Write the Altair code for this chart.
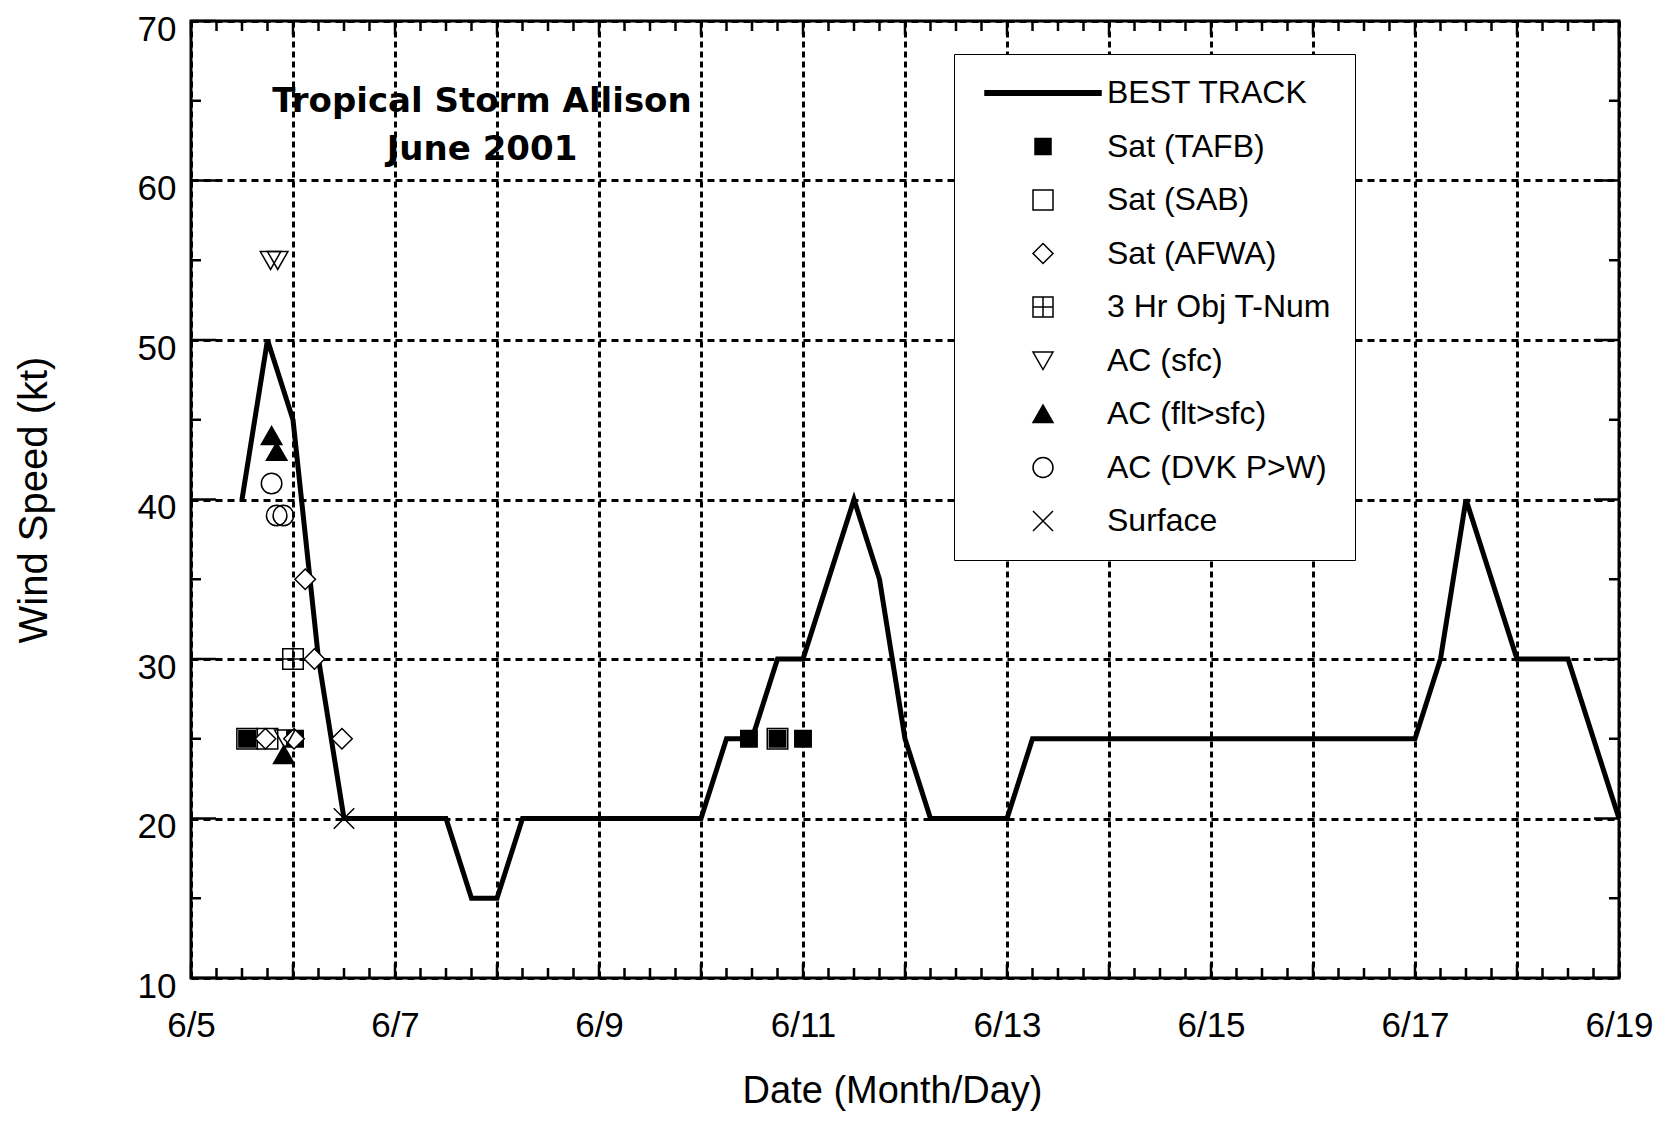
import altair as alt
import pandas as pd

# ---------------- data ----------------
bt_day = [5.5, 5.75, 6.0, 6.25, 6.5, 6.75, 7.0, 7.25, 7.5, 7.75, 8.0, 8.25, 8.5, 8.75,
          9.0, 9.25, 9.5, 9.75, 10.0, 10.25, 10.5, 10.75, 11.0, 11.25, 11.5, 11.75,
          12.0, 12.25, 12.5, 12.75, 13.0, 13.25, 13.5, 14.0, 14.5, 15.0, 15.5, 16.0,
          16.5, 17.0, 17.25, 17.5, 17.75, 18.0, 18.25, 18.5, 18.75, 19.0]
bt_kt = [40, 50, 45, 30, 20, 20, 20, 20, 20, 15, 15, 20, 20, 20,
         20, 20, 20, 20, 20, 25, 25, 30, 30, 35, 40, 35,
         25, 20, 20, 20, 20, 25, 25, 25, 25, 25, 25, 25,
         25, 25, 30, 40, 35, 30, 30, 30, 25, 20]

series_names = ["BEST TRACK", "Sat (TAFB)", "Sat (SAB)", "Sat (AFWA)", "3 Hr Obj T-Num",
                "AC (sfc)", "AC (flt>sfc)", "AC (DVK P>W)", "Surface"]

tafb_day = [5.55, 6.02, 10.47, 10.75, 11.0]
tafb_kt = [25, 25, 25, 25, 25]
sab_day = [5.55, 5.75, 10.75]
sab_kt = [25, 25, 25]
afwa_day = [5.73, 6.01, 6.12, 6.21, 6.48]
afwa_kt = [25, 25, 35, 30, 25]
tnum_day = [6.0]
tnum_kt = [30]
acsfc_day = [5.78, 5.85, 5.92]
acsfc_kt = [55, 55, 25]
acflt_day = [5.79, 5.84, 5.91]
acflt_kt = [44, 43, 24]
dvk_day = [5.79, 5.84, 5.905]
dvk_kt = [41, 39, 39]
sfc_day = [6.5]
sfc_kt = [20]

title_lines = ["Tropical Storm Allison", "June 2001"]
x_label_days = list(range(5, 20))
y_label_vals = [10, 20, 30, 40, 50, 60, 70]

# ---------------- tables ----------------
bt = pd.DataFrame({"day": bt_day, "kt": bt_kt})

rows = []
for name, d, k in [("Sat (TAFB)", tafb_day, tafb_kt), ("Sat (SAB)", sab_day, sab_kt),
                   ("Sat (AFWA)", afwa_day, afwa_kt), ("3 Hr Obj T-Num", tnum_day, tnum_kt),
                   ("AC (sfc)", acsfc_day, acsfc_kt), ("AC (flt>sfc)", acflt_day, acflt_kt),
                   ("AC (DVK P>W)", dvk_day, dvk_kt), ("Surface", sfc_day, sfc_kt)]:
    for a, b in zip(d, k):
        rows.append({"series": name, "day": a, "kt": b})
pts = pd.DataFrame(rows)

xminor = pd.DataFrame({"day": [5 + i * 0.25 for i in range(57) if i % 4 != 0]})
xmajor = pd.DataFrame({"day": [5 + i for i in range(15)]})
yminor = pd.DataFrame({"kt": [15, 25, 35, 45, 55, 65]})
ymajor = pd.DataFrame({"kt": y_label_vals})

W, H = 1428, 957
xs = alt.Scale(domain=[5, 19], nice=False, zero=False)
ys = alt.Scale(domain=[10, 70], nice=False, zero=False)

x_axis = alt.Axis(values=x_label_days, ticks=False, domain=False, grid=True,
                  gridDash=[6, 4], gridWidth=3, gridColor="black", gridOpacity=1,
                  labelExpr="datum.value % 2 == 1 ? '6/' + datum.value : ''",
                  labelFontSize=35, labelFont="Liberation Sans", labelColor="black",
                  labelPadding=30, title="Date (Month/Day)", titleFontSize=38,
                  titleFont="Liberation Sans", titleFontWeight="normal", titleColor="black",
                  titlePadding=29, titleX=701, labelFlush=False, labelOverlap=False)
y_axis = alt.Axis(values=y_label_vals, ticks=False, domain=False, grid=True,
                  gridDash=[7, 5], gridWidth=3, gridColor="black", gridOpacity=1,
                  labelFontSize=35, labelFont="Liberation Sans", labelColor="black",
                  labelPadding=15, labelOffset=8, title="Wind Speed (kt)", titleFontSize=40,
                  titleFont="Liberation Sans", titleFontWeight="normal", titleColor="black",
                  titlePadding=83, labelFlush=False, labelOverlap=False)

X = alt.X("day:Q", scale=xs, axis=x_axis)
Y = alt.Y("kt:Q", scale=ys, axis=y_axis)

line = alt.Chart(bt).mark_line(color="black", strokeWidth=5).encode(x=X, y=Y)

shape_range = [
    "M-5.8,-0.22H5.8V0.22H-5.8Z",
    "M-0.8,-0.8H0.8V0.8H-0.8Z",
    "M-1,-1H1V1H-1Z",
    "M0,-1L1,0L0,1L-1,0Z",
    "M-1,-1H1V1H-1ZM0,-1V1M-1,0H1",
    "M-1,-0.85L1,-0.85L0,0.9Z",
    "M-1,0.85L1,0.85L0,-0.9Z",
    "circle",
    "M-1,-1L1,1M1,-1L-1,1",
]
fill_range = ["black", "black", "transparent", "white", "transparent",
              "transparent", "black", "transparent", "transparent"]
stroke_range = ["black"] * len(series_names)

legend = alt.Legend(orient="none", legendX=763, legendY=33, padding=23,
                    symbolOffset=50, labelOffset=48, labelFontSize=32,
                    labelFont="Liberation Sans", labelColor="black", labelLimit=400,
                    rowPadding=21.5, strokeColor="black", fillColor="white",
                    symbolSize=400, symbolStrokeWidth=1.5,
                    title=None)

points = alt.Chart(pts).mark_point(filled=True, strokeWidth=1.5,
                                   size=420, opacity=1).encode(
    x=X, y=Y,
    shape=alt.Shape("series:N", scale=alt.Scale(domain=series_names, range=shape_range),
                    legend=legend),
    fill=alt.Fill("series:N", scale=alt.Scale(domain=series_names, range=fill_range),
                  legend=legend),
    stroke=alt.Stroke("series:N", scale=alt.Scale(domain=series_names, range=stroke_range),
                      legend=legend),
)

def xticks(df, length):
    bottom = alt.Chart(df).mark_rule(color="black", strokeWidth=2.5).encode(
        x=X, y=alt.value(H), y2=alt.value(H - length))
    top = alt.Chart(df).mark_rule(color="black", strokeWidth=2.5).encode(
        x=X, y=alt.value(0), y2=alt.value(length))
    return [bottom, top]

def yticks(df, length):
    left = alt.Chart(df).mark_rule(color="black", strokeWidth=2.5).encode(
        y=Y, x=alt.value(0), x2=alt.value(length))
    right = alt.Chart(df).mark_rule(color="black", strokeWidth=2.5).encode(
        y=Y, x=alt.value(W), x2=alt.value(W - length))
    return [left, right]

layers = xticks(xminor, 10) + xticks(xmajor, 14) + yticks(yminor, 10) + yticks(ymajor, 25)

chart = alt.layer(line, *layers, points).properties(
    width=W, height=H,
    autosize=alt.AutoSizeParams(type="none"),
    padding={"left": 183, "top": 13, "right": 38, "bottom": 138},
    title=alt.TitleParams(text=title_lines, anchor="start", align="center", dx=291,
                          dy=155, offset=0, baseline="top", fontSize=34,
                          font="DejaVu Sans", fontWeight="bold", lineHeight=48,
                          frame="group", color="black"),
).configure(background="white").configure_view(stroke="black", strokeWidth=3)

chart.save("out.html", embed_options={"renderer": "svg", "actions": False})
